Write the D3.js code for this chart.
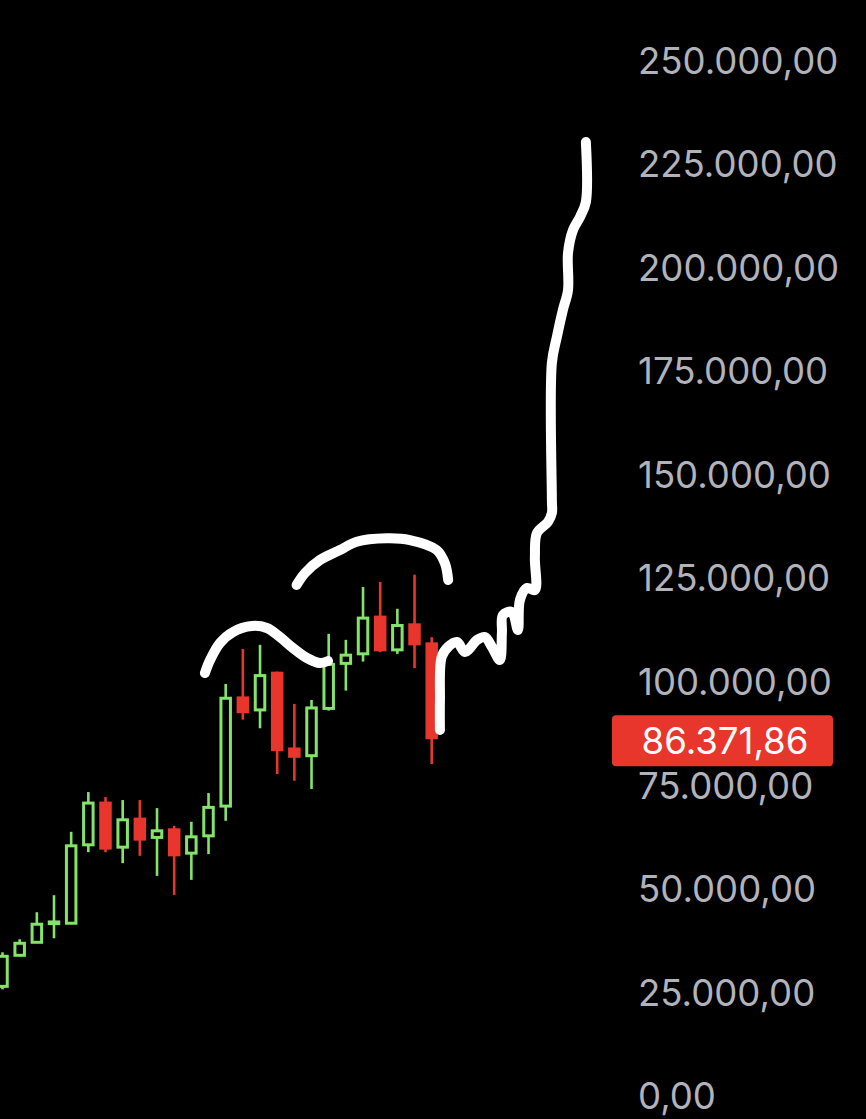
<!DOCTYPE html>
<html>
<head>
<meta charset="utf-8">
<script src="https://cdn.jsdelivr.net/npm/d3@7"></script>
<style>
  html, body { margin: 0; padding: 0; background: #000; }
  svg { display: block; }
</style>
</head>
<body>
<svg id="price_chart" width="866" height="1119"></svg>
<script>
// ====================== DATA ======================
let opens  = [26350, 33850, 36990, 41500, 41590, 60520, 70600, 59960, 66730, 62310, 64150, 58510, 62690,
              69870, 95990, 93090, 101960, 83660, 82040, 93450, 104330, 106630, 115500, 107590, 113640, 109040];
let highs  = [34570, 37720, 44250, 48360, 63660, 73260, 72050, 71330, 71330, 69390, 65110, 66080, 73020,
              99370, 107830, 108800, 102350, 94540, 95500, 111460, 110010, 122750, 123960, 117510, 125730, 110660];
let lows   = [25630, 33610, 36900, 37960, 41350, 58750, 58750, 56090, 57860, 53020, 48430, 52060, 58270,
              66320, 90740, 88660, 77610, 75990, 73990, 92920, 97750, 104760, 107040, 106630, 103170, 80030];
let closes = [33610, 36750, 41350, 41900, 60280, 70600, 59720, 66560, 61900, 63900, 58100, 62450, 69560,
              95910, 92670, 101380, 83490, 81890, 93570, 104090, 106310, 115260, 107590, 113470, 109040, 86371.86];

let yTicks = [0, 25000, 50000, 75000, 100000, 125000, 150000, 175000, 200000, 225000, 250000];
let lastPrice = 86371.86;

// hand drawn strokes, [candle index, price]
let leftArch = [[11.79, 102000], [12.09, 105140], [12.67, 109250], [13.42, 111900], [14.53, 113350], [15.40, 112870],
                [16.16, 110700], [16.92, 108040], [17.73, 105630], [18.49, 104420], [18.96, 104900]];
let topArch  = [[17.13, 123250], [17.62, 126150], [18.49, 129290], [19.66, 131700], [20.63, 133700], [22.38, 134520],
                [23.73, 134110], [25.29, 131700], [25.77, 128490], [25.96, 124460]];
let rally    = [[25.48, 88240], [25.48, 95490], [25.58, 105870], [25.95, 108280], [26.47, 109490], [26.94, 107070],
                [27.64, 109970], [28.10, 110700], [28.51, 108280], [28.97, 105140], [29.09, 111660], [29.15, 116010],
                [29.67, 116730], [30.02, 112390], [30.14, 119630], [30.55, 122530], [31.01, 122040], [31.01, 130010],
                [31.13, 135800], [31.77, 138460], [32.0, 140630], [32.0, 143770], [32.0, 176850], [32.29, 183130],
                [32.64, 189640], [32.94, 194470], [32.94, 203400], [33.23, 208960], [33.64, 212100], [33.98, 215720],
                [33.98, 230200]];

// ====================== SCALES ======================
let width = 866;
let height = 1119;
let candleWidth = 9.5;
let upColor = "#84e36a";
let downColor = "#e8362d";
let labelColor = "#b2b2ba";

let xScale = d3.scaleLinear().domain([0, 25]).range([2.5, 431.7]);
let yScale = d3.scaleLinear().domain([0, 250000]).range([1095.5, 60]);

let deLocale = d3.formatLocale({ decimal: ",", thousands: ".", grouping: [3], currency: ["", ""] });
let fmt = deLocale.format(",.2f");

let candles = opens.map((o, i) => ({ i: i, o: o, h: highs[i], l: lows[i], c: closes[i] }));

let svg = d3.select("#price_chart");

svg.append("rect")
  .attr("width", width)
  .attr("height", height)
  .attr("fill", "#000");

// ====================== Y AXIS LABELS ======================
let yAxis = d3.axisRight(yScale)
  .tickValues(yTicks)
  .tickFormat(fmt)
  .tickSize(0)
  .tickPadding(0);

let axisG = svg.append("g")
  .attr("transform", "translate(638,0)")
  .call(yAxis);

axisG.select(".domain").remove();
axisG.selectAll("text")
  .attr("fill", labelColor)
  .attr("dy", "0.36em")
  .style("font-family", "Inter, 'Open Sans', sans-serif")
  .style("font-size", "36.6px")
  .style("text-anchor", "start");

// ====================== CANDLES ======================
let candleG = svg.append("g");

candleG.selectAll("line.wick")
  .data(candles)
  .enter()
  .append("line")
  .attr("class", "wick")
  .attr("x1", d => xScale(d.i))
  .attr("x2", d => xScale(d.i))
  .attr("y1", d => yScale(d.h))
  .attr("y2", d => yScale(d.l))
  .attr("stroke", d => d.c >= d.o ? upColor : downColor)
  .attr("stroke-width", 2.6);

candleG.selectAll("rect.body")
  .data(candles)
  .enter()
  .append("rect")
  .attr("class", "body")
  .attr("x", d => xScale(d.i) - candleWidth / 2)
  .attr("y", d => yScale(Math.max(d.o, d.c)))
  .attr("width", candleWidth)
  .attr("height", d => Math.max(1.5, Math.abs(yScale(d.o) - yScale(d.c))))
  .attr("fill", d => d.c >= d.o ? "#000" : downColor)
  .attr("stroke", d => d.c >= d.o ? upColor : downColor)
  .attr("stroke-width", 3);

// ====================== HAND DRAWN STROKES ======================
let strokeLine = d3.line()
  .x(d => xScale(d[0]))
  .y(d => yScale(d[1]))
  .curve(d3.curveCatmullRom.alpha(0.5));

[leftArch, topArch, rally].forEach(pts => {
  svg.append("path")
    .datum(pts)
    .attr("d", strokeLine)
    .attr("fill", "none")
    .attr("stroke", "#fff")
    .attr("stroke-width", 10)
    .attr("stroke-linecap", "round")
    .attr("stroke-linejoin", "round");
});

// ====================== LAST PRICE BADGE ======================
let badgeY = yScale(lastPrice) + 3;

svg.append("rect")
  .attr("x", 612)
  .attr("y", badgeY - 25.5)
  .attr("width", 221)
  .attr("height", 51)
  .attr("rx", 4)
  .attr("fill", "#e8362d");

svg.append("text")
  .attr("x", 725)
  .attr("y", badgeY)
  .attr("dy", "0.36em")
  .attr("fill", "#fff")
  .style("font-family", "Inter, 'Open Sans', sans-serif")
  .style("font-size", "36.6px")
  .style("text-anchor", "middle")
  .text(fmt(lastPrice));
</script>
</body>
</html>
